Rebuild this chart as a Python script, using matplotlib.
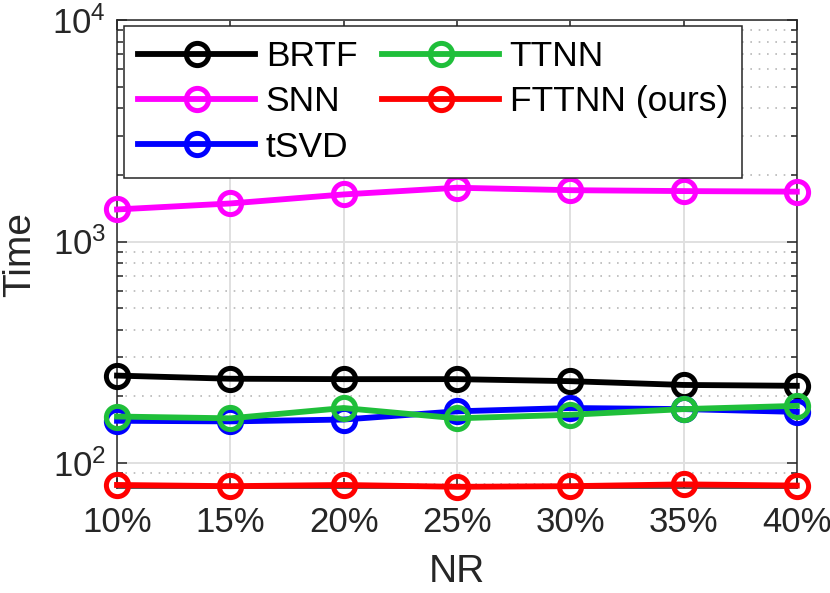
"""Run time versus noise ratio for the five tensor completion methods."""

import matplotlib

matplotlib.use("Agg")

import matplotlib.pyplot as plt
from matplotlib.ticker import LogLocator, NullFormatter

plt.rcParams["font.family"] = ["Liberation Sans", "DejaVu Sans"]
plt.rcParams["mathtext.default"] = "regular"

NR_LABELS = ["10%", "15%", "20%", "25%", "30%", "35%", "40%"]
NR = [10, 15, 20, 25, 30, 35, 40]

BRTF = [248, 240, 239, 239, 234, 225, 223]
SNN = [1396, 1486, 1632, 1750, 1706, 1690, 1680]
TSVD = [155, 154, 157, 171, 177, 175, 170]
TTNN = [162, 159, 177, 159, 165, 175, 181]
FTTNN = [79.5, 78.5, 79.5, 78, 78.5, 80, 79]

SERIES = [
    ("BRTF", BRTF, "#000000"),
    ("SNN", SNN, "#ff00ff"),
    ("tSVD", TSVD, "#0000ff"),
    ("TTNN", TTNN, "#1fbf3a"),
    ("FTTNN (ours)", FTTNN, "#ff0000"),
]

fig = plt.figure(figsize=(8.3, 5.93), dpi=100)
ax = fig.add_axes([0.141, 0.177, 0.819, 0.789])

for name, values, color in SERIES:
    ax.plot(NR, values, color=color, lw=4.2, marker="o", ms=16,
            mfc="none", mec=color, mew=3.6, label=name, clip_on=False,
            zorder=3)

ax.set_yscale("log")
ax.set_xlim(10, 40)
ax.set_ylim(77, 1e4)
ax.set_xticks(NR)
ax.set_xticklabels(NR_LABELS)
ax.yaxis.set_major_locator(LogLocator(base=10, numticks=10))
ax.yaxis.set_minor_locator(LogLocator(base=10, subs=range(2, 10), numticks=20))
ax.yaxis.set_minor_formatter(NullFormatter())

ax.grid(True, which="major", color="#e0e0e0", lw=1.4, ls="-", zorder=0)
ax.grid(True, which="minor", axis="y", color="#b8b8b8", lw=1.2,
        ls=(0, (1, 4)), zorder=0)
ax.set_axisbelow(True)

ax.tick_params(which="both", direction="in", top=True, right=True,
               colors="#262626", labelsize=25, width=1.1)
ax.tick_params(which="major", length=7)
ax.tick_params(which="minor", length=4)
ax.tick_params(axis="x", pad=13)
ax.tick_params(axis="y", pad=8)
for spine in ax.spines.values():
    spine.set_color("#262626")
    spine.set_linewidth(1.1)

ax.set_xlabel("NR", fontsize=28, color="#262626", labelpad=11)
ax.set_ylabel("Time", fontsize=28, color="#262626", labelpad=10)

legend = ax.legend(ncol=2, loc="upper left", bbox_to_anchor=(0.0103, 0.988),
                   borderaxespad=0, fontsize=25.5, handlelength=3.3,
                   handletextpad=0.3, columnspacing=0.7, labelspacing=0.35,
                   borderpad=0.4, fancybox=False, framealpha=1,
                   edgecolor="#262626")
legend.get_frame().set_linewidth(1.1)

fig.savefig("out.png", dpi=100)
